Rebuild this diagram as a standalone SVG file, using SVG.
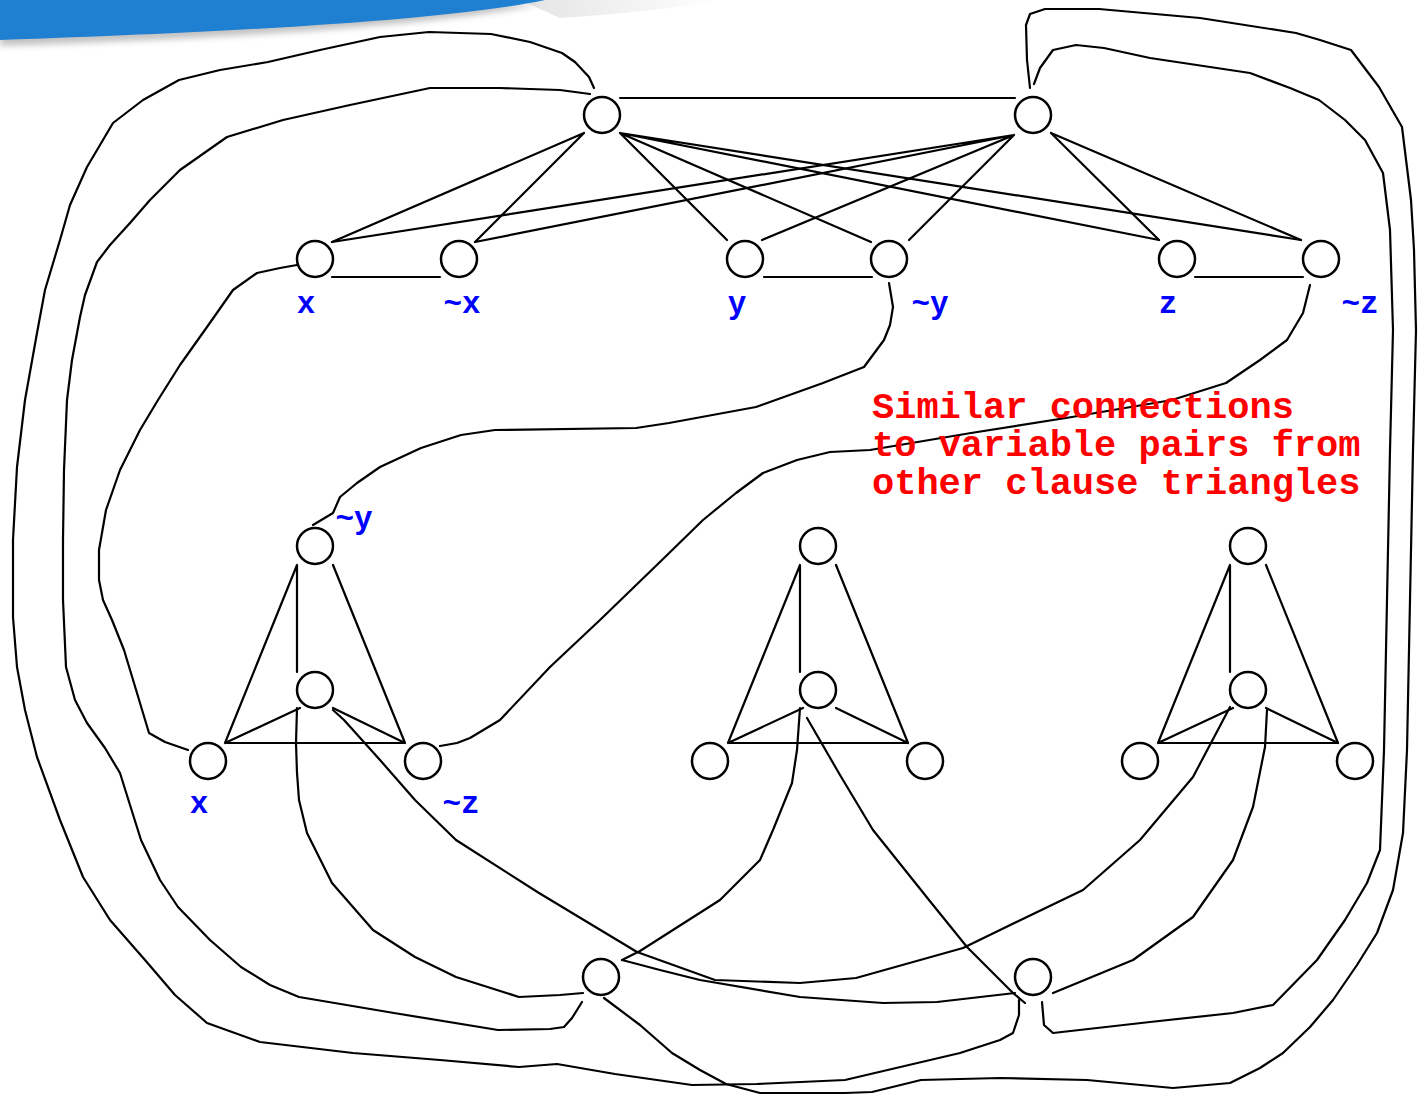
<svg xmlns="http://www.w3.org/2000/svg" width="1418" height="1096" viewBox="0 0 1418 1096">
<defs>
<style>
.n{fill:#fff;stroke:#000;stroke-width:2.5}
.e{fill:none;stroke:#000;stroke-width:2.2;stroke-linejoin:round;stroke-linecap:round}
.lb{font-family:"Liberation Mono","DejaVu Sans Mono",monospace;font-weight:bold;font-size:31px;fill:#0000ff;text-anchor:middle}
.note{font-family:"Liberation Mono","DejaVu Sans Mono",monospace;font-weight:bold;font-size:37px;fill:#ff0000}
</style>
<filter id="sh" x="-10%" y="-50%" width="120%" height="200%"><feGaussianBlur stdDeviation="3"/></filter>
<linearGradient id="fade" x1="0" y1="0" x2="1" y2="0"><stop offset="0" stop-color="#d8d8d8"/><stop offset="1" stop-color="#ffffff"/></linearGradient>
</defs>
<rect width="1418" height="1096" fill="#fff"/>
<g id="banner">
<path d="M520,0 L720,0 C680,8 620,14 560,18 Z" fill="url(#fade)" opacity="0.7"/>
<path d="M0,6 L540,4 C470,20 300,36 0,46 Z" fill="#9a9a9a" filter="url(#sh)" opacity="0.6"/>
<path d="M0,0 L545,0 C470,16 300,30 0,40 Z" fill="#1f7fd1"/>
</g>
<g id="connectors">
<path class="e" d="M620,98 L1015,98"/>
<path class="e" d="M584,133 L332,242 M584,133 L475,242 M620,133 L727,240 M620,133 L871,242 M620,133 L1159,240 M620,133 L1301,240"/>
<path class="e" d="M1014,135 L332,242 M1014,135 L475,242 M1014,135 L762,240 M1014,135 L909,240 M1051,133 L1159,240 M1051,133 L1301,240"/>
<path class="e" d="M332,277 L440,277 M764,277 L872,277 M1195,277 L1303,277"/>
<path class="e" d="M225,743 L297,565 L297,672 M333,565 L405,743 L225,743 M300,708 L225,743 M333,708 L405,743"/>
<path class="e" d="M728,743 L800,565 L800,672 M836,565 L908,743 L728,743 M803,708 L728,743 M836,708 L908,743"/>
<path class="e" d="M1158,743 L1230,565 L1230,672 M1266,565 L1338,743 L1158,743 M1233,708 L1158,743 M1266,708 L1338,743"/>
<path class="e" d="M590,94 L560,90 L500,88 L430,88 L350,105 L283,120 L227,137 L180,170 L150,200 L130,223 L110,245 L97,262 L85,295 L80,317 L72,360 L67,400 L64,470 L63,540 L63,600 L66,667 L75,700 L87,723 L105,748 L120,773 L130,805 L141,840 L160,880 L178,907 L210,940 L241,967 L270,985 L299,997 L394,1013 L498,1030 L550,1029 L564,1027 L572,1018 L582,1002"/>
<path class="e" d="M594,88 L589,77 L575,62 L562,53 L530,42 L491,34 L429,32 L380,37 L320,50 L268,62 L220,70 L179,80 L143,100 L113,123 L87,167 L70,205 L60,240 L45,290 L37,333 L25,400 L17,467 L13,540 L13,617 L17,667 L25,710 L37,757 L60,820 L83,877 L110,920 L145,960 L175,995 L207,1023 L260,1042 L353,1053 L440,1060 L519,1067 L557,1064 L615,1074 L692,1085 L757,1084 L845,1080 L960,1053 L1000,1040 L1013,1033 L1019,1015 L1019,1000"/>
<path class="e" d="M604,998 L640,1025 L672,1053 L700,1070 L726,1084 L760,1093 L845,1093 L872,1092 L921,1080 L1000,1078 L1087,1080 L1173,1088 L1230,1083 L1260,1068 L1283,1053 L1310,1027 L1333,1000 L1357,965 L1377,933 L1393,890 L1403,833 L1407,750 L1410,600 L1413,450 L1416,330 L1414,250 L1411,200 L1402,127 L1379,87 L1351,50 L1320,40 L1296,33 L1200,18 L1099,9 L1045,9 L1030,14 L1026,25 L1027,60 L1030,88"/>
<path class="e" d="M1034,84 L1040,68 L1053,50 L1076,45 L1104,48 L1150,58 L1250,73 L1290,88 L1319,100 L1345,120 L1365,140 L1383,173 L1390,230 L1393,330 L1390,450 L1387,600 L1384,750 L1380,850 L1367,883 L1345,920 L1317,960 L1273,1005 L1233,1013 L1150,1022 L1053,1033 L1044,1025 L1042,1002"/>
<path class="e" d="M297,265 L280,268 L257,273 L233,290 L207,327 L180,365 L158,400 L140,430 L120,470 L106,510 L99,550 L99,580 L103,600 L112,620 L124,650 L137,693 L149,733 L165,742 L188,750"/>
<path class="e" d="M889,283 L893,307 L890,325 L884,340 L864,367 L823,383 L756,407 L669,423 L636,428 L495,430 L461,435 L421,448 L380,467 L357,483 L340,497 L333,513 L313,525"/>
<path class="e" d="M1310,285 L1303,313 L1287,340 L1260,360 L1226,383 L1172,400 L1072,417 L971,433 L870,450 L830,452 L797,460 L763,473 L736,493 L703,520 L662,560 L600,620 L550,667 L500,720 L470,738 L457,743 L440,746"/>
<path class="e" d="M297,708 L296,743 L297,773 L299,800 L307,833 L332,883 L373,930 L415,957 L456,977 L519,997 L560,995 L583,993"/>
<path class="e" d="M333,710 L344,720 L380,760 L415,800 L456,840 L539,893 L637,952 L715,980 L800,983 L856,978 L963,948 L1000,930 L1083,890 L1140,840 L1193,777 L1230,707"/>
<path class="e" d="M622,960 L640,951 L720,900 L760,860 L773,830 L792,783 L797,750 L800,708"/>
<path class="e" d="M807,718 L840,775 L873,830 L929,900 L967,947 L1013,993 L1025,1003"/>
<path class="e" d="M622,960 L660,970 L700,980 L800,997 L883,1003 L937,1002 L1015,993"/>
<path class="e" d="M1267,710 L1265,747 L1253,807 L1233,860 L1193,917 L1133,960 L1053,993"/>
</g>
<g id="node-t1"><circle class="n" cx="602" cy="115" r="18"/></g>
<g id="node-t2"><circle class="n" cx="1033" cy="115" r="18"/></g>
<g id="node-x"><circle class="n" cx="315" cy="259" r="18"/><text class="lb" x="306" y="313">x</text></g>
<g id="node-nx"><circle class="n" cx="459" cy="259" r="18"/><text class="lb" x="462" y="313">~x</text></g>
<g id="node-y"><circle class="n" cx="745" cy="259" r="18"/><text class="lb" x="737" y="313">y</text></g>
<g id="node-ny"><circle class="n" cx="889" cy="259" r="18"/><text class="lb" x="930" y="313">~y</text></g>
<g id="node-z"><circle class="n" cx="1177" cy="259" r="18"/><text class="lb" x="1168" y="313">z</text></g>
<g id="node-nz"><circle class="n" cx="1321" cy="259" r="18"/><text class="lb" x="1360" y="313">~z</text></g>
<g id="c1-top"><circle class="n" cx="315" cy="546" r="18"/><text class="lb" x="354" y="528">~y</text></g>
<g id="c1-mid"><circle class="n" cx="315" cy="690" r="18"/></g>
<g id="c1-left"><circle class="n" cx="208" cy="761" r="18"/><text class="lb" x="199" y="813">x</text></g>
<g id="c1-right"><circle class="n" cx="423" cy="761" r="18"/><text class="lb" x="461" y="813">~z</text></g>
<g id="c2-top"><circle class="n" cx="818" cy="546" r="18"/></g>
<g id="c2-mid"><circle class="n" cx="818" cy="690" r="18"/></g>
<g id="c2-left"><circle class="n" cx="710" cy="761" r="18"/></g>
<g id="c2-right"><circle class="n" cx="925" cy="761" r="18"/></g>
<g id="c3-top"><circle class="n" cx="1248" cy="546" r="18"/></g>
<g id="c3-mid"><circle class="n" cx="1248" cy="690" r="18"/></g>
<g id="c3-left"><circle class="n" cx="1140" cy="761" r="18"/></g>
<g id="c3-right"><circle class="n" cx="1355" cy="761" r="18"/></g>
<g id="node-b1"><circle class="n" cx="601" cy="977" r="18"/></g>
<g id="node-b2"><circle class="n" cx="1033" cy="977" r="18"/></g>
<g id="note">
<text class="note" x="872" y="418">Similar connections</text>
<text class="note" x="872" y="456">to variable pairs from</text>
<text class="note" x="872" y="494">other clause triangles</text>
</g>
</svg>
